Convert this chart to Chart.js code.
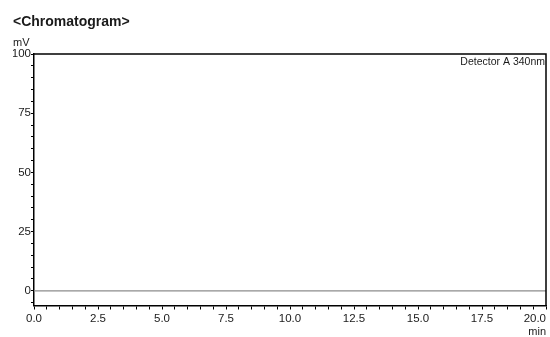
<!DOCTYPE html>
<html>
<head>
<meta charset="utf-8">
<script src="https://cdn.jsdelivr.net/npm/chart.js@4/dist/chart.umd.min.js"></script>
<style>
  body { margin: 0; background: #fff; }
  #wrap { width: 550px; height: 337px; }
</style>
</head>
<body>
<div id="wrap"><canvas id="chromChart"></canvas></div>
<script>
// retention time (min) and detector signal (mV) - flat baseline
const times = [0, 5, 10, 15, 20];
const signal = [0, 0, 0, 0, 0];

const xRange = [0, 20];
const yRange = [-6.2, 100];
const xMajor = 2.5;
const yMajor = 25;

const chartTitle = '<Chromatogram>';
const yUnit = 'mV';
const xUnit = 'min';
const detectorLabel = 'Detector A 340nm';

Chart.defaults.font.family = '"Liberation Sans", Arial, sans-serif';
Chart.defaults.color = '#1a1a1a';

// frame on top/right plus detector label
const framePlugin = {
    id: 'frame',
    afterDraw(chart) {
        const { ctx, chartArea } = chart;
        ctx.save();
        ctx.strokeStyle = '#000';
        ctx.lineWidth = 1.5;
        ctx.beginPath();
        ctx.moveTo(chartArea.left, chartArea.top);
        ctx.lineTo(chartArea.right, chartArea.top);
        ctx.lineTo(chartArea.right, chartArea.bottom);
        ctx.stroke();
        ctx.fillStyle = '#1a1a1a';
        ctx.font = '10.5px "Liberation Sans", Arial, sans-serif';
        ctx.textAlign = 'right';
        ctx.textBaseline = 'top';
        ctx.fillText(detectorLabel, chartArea.right - 1, chartArea.top + 3);
        ctx.restore();
    }
};

const chromChart = new Chart(document.getElementById('chromChart').getContext('2d'), {
    type: 'line',
    data: {
        datasets: [{
            label: 'Detector A',
            data: times.map((t, i) => ({ x: t, y: signal[i] })),
            borderColor: '#8c8c8c',
            borderWidth: 1.2,
            pointRadius: 0,
            fill: false
        }]
    },
    options: {
        responsive: true,
        maintainAspectRatio: false,
        animation: false,
        layout: {
            autoPadding: false,
            padding: { left: 13, right: 4, top: 0, bottom: 0 }
        },
        plugins: {
            legend: { display: false },
            tooltip: { enabled: false },
            title: {
                display: true,
                text: chartTitle,
                align: 'start',
                font: { size: 14, weight: 'bold' },
                padding: { top: 14, bottom: 1 }
            },
            subtitle: {
                display: true,
                text: yUnit,
                align: 'start',
                font: { size: 11 },
                padding: { top: 5, bottom: 4 }
            }
        },
        scales: {
            x: {
                type: 'linear',
                min: xRange[0],
                max: xRange[1],
                border: { display: true, color: '#000', width: 1.5 },
                grid: {
                    display: true,
                    drawOnChartArea: false,
                    drawTicks: true,
                    tickLength: 4,
                    tickColor: '#000'
                },
                ticks: {
                    stepSize: 0.5,
                    autoSkip: false,
                    maxRotation: 0,
                    padding: 3.5,
                    font: { size: 11.5, lineHeight: 1 },
                    callback: (value, index, ticks) => {
                        if (Math.abs(value / xMajor - Math.round(value / xMajor)) > 1e-6) return '';
                        const txt = value.toFixed(1);
                        // last label sits flush with the right frame
                        return index === ticks.length - 1 ? txt + '\u0020'.repeat(7) : txt;
                    }
                },
                title: {
                    display: true,
                    text: xUnit,
                    align: 'end',
                    font: { size: 11, lineHeight: 1 },
                    padding: { top: -2, bottom: 0 }
                },
                afterFit: (scale) => { scale.paddingLeft = 0; scale.paddingRight = 0; }
            },
            y: {
                min: yRange[0],
                max: yRange[1],
                border: { display: true, color: '#000', width: 1.5 },
                grid: {
                    display: true,
                    drawOnChartArea: false,
                    drawTicks: true,
                    tickLength: 3,
                    tickColor: '#000'
                },
                ticks: {
                    stepSize: 5,
                    includeBounds: false,
                    autoSkip: false,
                    padding: 0,
                    font: { size: 11.5 },
                    callback: (value) => value % yMajor === 0 ? String(value) : ''
                },
                afterFit: (scale) => { scale.width = 21; scale.paddingTop = 0; scale.paddingBottom = 0; }
            }
        }
    },
    plugins: [framePlugin]
});
</script>
</body>
</html>
